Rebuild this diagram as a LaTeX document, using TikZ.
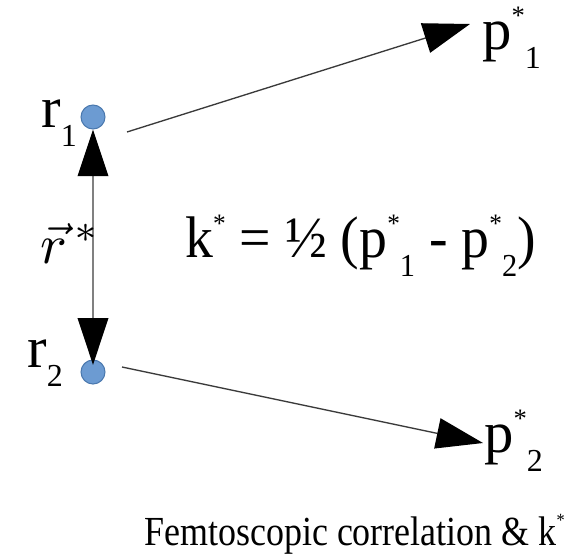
\documentclass[tikz,border=0pt]{standalone}
\usepackage{graphicx}
\usepackage{fontspec}
\setmainfont{Liberation Serif}
\usetikzlibrary{arrows.meta}
\definecolor{dotblue}{HTML}{6C9BD2}
\definecolor{dotedge}{HTML}{4A78AE}
\definecolor{linegray}{HTML}{3A3A3A}
\newcommand{\pstar}{\raisebox{0.42em}{\fontsize{20}{20}\selectfont *}}
\newcommand{\psub}[1]{\raisebox{-0.33em}{\fontsize{24}{24}\selectfont #1}}
\tikzset{
  bigtip/.tip={Triangle[length=35pt, width=23pt, color=black]},
  particle/.style={
    circle, fill=dotblue, draw=dotedge, line width=0.8pt,
    minimum size=18pt, inner sep=0pt
  },
  lbl/.style={
    inner sep=0pt, anchor=base west,
    font=\fontsize{44}{48}\selectfont
  },
  track/.style={draw=linegray, line width=1pt, -bigtip}
}

\begin{document}
\begin{tikzpicture}[x=0.75pt, y=-0.75pt]
        \useasboundingbox (0,0) rectangle (577,553);
        % emission points
        \node[particle] (r1) at (93,117) {};
        \node[particle] (r2) at (93,372) {};
        \node[lbl] (lr1) at (41,127) {r\psub{1}};
        \node[lbl] (lr2) at (27,367) {r\psub{2}};
        % momenta
        \node[lbl] (p1) at (482,49) {p\pstar\psub{1}};
        \node[lbl] (p2) at (484,452) {p\pstar\psub{2}};
        \coordinate (r1out) at (127,132);
        \coordinate (r2out) at (122,367);
        \draw[track] (r1out) -- ([shift={(-12,-25)}]p1.base west);
        \draw[track] (r2out) -- ([shift={(-1,-9)}]p2.base west);
        % separation vector
        \draw[track, bigtip-bigtip, draw=gray, shorten >=-4pt] (r1) -- (r2);
        \node[anchor=base west, inner sep=0pt] (rvec) at (40,263)
          {\scalebox{4.2}{$\vec{r}^{\,*}$}};
        % relative momentum
        \node[lbl, xscale=0.95] (kstar) at (185,257)
          {k\pstar{} = ½ (p\pstar\psub{1} - p\pstar\psub{2})};
        % caption
        \node[lbl, xscale=0.87, font=\fontsize{31}{34}\selectfont] (caption) at (144,545)
          {Femtoscopic correlation \& k\raisebox{0.45em}{\fontsize{14}{14}\selectfont *}};
      \end{tikzpicture}
\end{document}
